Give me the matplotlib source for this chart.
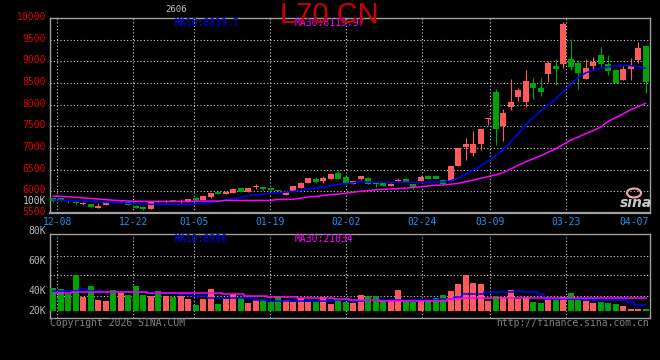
import numpy as np
import matplotlib.pyplot as plt
from matplotlib.patches import Ellipse
from matplotlib.transforms import ScaledTranslation

# daily candles, Dec -> Apr (price in yuan/ton)
opens = [5840, 5835, 5810, 5765, 5715, 5700, 5620, 5690, 5755, 5745,
         5760, 5670, 5640, 5600, 5775, 5745, 5790, 5760, 5760, 5850,
         5800, 5870, 5995, 5950, 5965, 6070, 5990, 6090, 6105, 6075,
         6035, 5920, 6012, 6085, 6195, 6290, 6235, 6290, 6430, 6320,
         6175, 6275, 6315, 6200, 6185, 6125, 6230, 6290, 6170, 6230,
         6350, 6365, 6260, 6250, 6585, 7025, 6885, 7095, 7675, 8300,
         7510, 7955, 8180, 8055, 8500, 8385, 8710, 8890, 8940, 9055,
         8955, 8600, 8895, 9145, 8940, 8800, 8570, 8825, 9040, 9355]
highs = [5855, 5845, 5820, 5775, 5745, 5705, 5720, 5750, 5765, 5790,
         5770, 5680, 5660, 5775, 5800, 5790, 5810, 5830, 5830, 5860,
         5900, 5965, 6005, 6000, 6060, 6080, 6085, 6160, 6110, 6085,
         6040, 5995, 6125, 6205, 6310, 6320, 6360, 6405, 6470, 6360,
         6250, 6365, 6325, 6205, 6195, 6185, 6300, 6300, 6180, 6360,
         6380, 6375, 6290, 6590, 7000, 7240, 7390, 7450, 7700, 8360,
         7900, 8590, 8390, 8800, 8615, 8615, 9010, 9045, 9915, 9510,
         9030, 9060, 9100, 9330, 9145, 8810, 8915, 9075, 9455, 9360]
lows = [5760, 5780, 5740, 5705, 5690, 5610, 5605, 5685, 5740, 5730,
        5685, 5615, 5570, 5595, 5730, 5720, 5760, 5720, 5755, 5780,
        5795, 5855, 5935, 5935, 5960, 5985, 5985, 6060, 6040, 6035,
        5975, 5915, 6005, 6080, 6190, 6190, 6200, 6285, 6280, 6165,
        6165, 6270, 6165, 6095, 6115, 6115, 6210, 6215, 6060, 6225,
        6290, 6290, 6165, 6245, 6580, 6725, 6815, 6960, 7530, 7070,
        7160, 7880, 8085, 7955, 8130, 8200, 8525, 8455, 8840, 8800,
        8360, 8600, 8825, 8840, 8685, 8505, 8565, 8570, 8970, 8275]
closes = [5785, 5795, 5770, 5720, 5725, 5630, 5660, 5745, 5745, 5760,
          5690, 5620, 5585, 5770, 5750, 5760, 5765, 5770, 5820, 5790,
          5890, 5955, 5945, 5985, 6050, 5990, 6080, 6125, 6045, 6040,
          6015, 5990, 6120, 6200, 6310, 6220, 6315, 6400, 6288, 6172,
          6235, 6360, 6170, 6175, 6125, 6170, 6260, 6220, 6095, 6335,
          6295, 6295, 6175, 6580, 6990, 7090, 7090, 7445, 7695, 7440,
          7800, 8065, 8340, 8545, 8385, 8295, 8960, 8825, 9860, 8860,
          8740, 8845, 8990, 8940, 8785, 8510, 8815, 8900, 9315, 8530]

ma10 = [5805, 5795, 5785, 5778, 5772, 5768, 5758, 5748, 5740, 5732,
        5722, 5712, 5704, 5700, 5700, 5700, 5700, 5700, 5700, 5710,
        5725, 5745, 5770, 5798, 5830, 5865, 5900, 5918, 5935, 5950,
        5965, 5980, 6000, 6025, 6050, 6075, 6095, 6130, 6160, 6180,
        6198, 6220, 6215, 6212, 6210, 6208, 6208, 6210, 6210, 6212,
        6215, 6215, 6218, 6240, 6310, 6390, 6490, 6590, 6690, 6830,
        6950, 7130, 7330, 7530, 7700, 7850, 7990, 8130, 8300, 8470,
        8620, 8730, 8790, 8845, 8875, 8895, 8900, 8900, 8880, 8840]
ma30 = [5890, 5885, 5876, 5865, 5850, 5835, 5822, 5810, 5795, 5785,
        5778, 5770, 5768, 5768, 5768, 5768, 5768, 5768, 5768, 5775,
        5775, 5775, 5775, 5790, 5790, 5790, 5790, 5790, 5790, 5790,
        5815, 5815, 5815, 5840, 5870, 5880, 5905, 5925, 5935, 5955,
        5980, 6000, 6020, 6035, 6045, 6055, 6065, 6075, 6090, 6105,
        6125, 6140, 6146, 6165, 6185, 6220, 6260, 6300, 6340, 6380,
        6430, 6515, 6600, 6680, 6750, 6820, 6900, 6980, 7080, 7180,
        7250, 7330, 7400, 7480, 7610, 7700, 7785, 7880, 7955, 8030]

# volume in K (chart's own odd scale)
volume = [43.3, 41.7, 36.7, 56, 34.3, 45, 31.3, 30.3, 41, 38.7,
          35.7, 45, 36.3, 35.3, 40, 35.3, 34.3, 35.3, 32.3, 26,
          31.7, 42, 27.3, 32, 37, 34, 28.3, 30.7, 31.7, 29.3,
          34.7, 31, 29.3, 32.7, 29.3, 29.3, 34, 27, 31.7, 29.3,
          28.3, 36, 35, 35, 30.7, 30.7, 41, 30, 29.3, 30.7,
          30.7, 32.7, 36, 40, 47, 56, 48.3, 47, 30.3, 35.3,
          34.3, 41, 32.3, 33.7, 29.3, 28.3, 32.3, 33.3, 33.7, 38.3,
          31.7, 29.7, 28.3, 29.3, 28.3, 27, 25, 22.3, 22.3, 22.3]
vol_ma10 = [40.3, 40.3, 40.3, 40.3, 41.7, 40.3, 40.3, 39, 39, 39,
            39, 39, 39, 37.7, 37.7, 37.7, 37.7, 36.7, 36.7, 35.3,
            35.3, 32.7, 32.7, 32.7, 32.7, 32.7, 32.7, 31, 31, 30.3,
            30.3, 30.3, 30.3, 30.3, 30.3, 30.3, 30.3, 30.3, 30.7, 30.7,
            29.7, 29.7, 31, 31, 31, 31, 31, 31, 31, 31,
            31, 31, 31.7, 31.7, 34.3, 37, 37, 37, 38.7, 38.7,
            38.7, 38.7, 39.7, 38.7, 38.7, 37, 31.7, 31.7, 31.7, 31.7,
            31.7, 30.7, 30.7, 30.7, 30.7, 30.7, 30.7, 28.7, 26, 26]
vol_ma30 = [38.3, 38.3, 38.3, 39, 39, 39, 39, 38.7, 38.7, 38.7,
            38.7, 38.7, 38.7, 37.7, 37.7, 37.7, 37.7, 37.7, 37.7, 37.7,
            37.7, 37.7, 37.7, 36.7, 36.7, 36.7, 35.3, 35.3, 35.3, 34.3,
            34.3, 34.3, 34.3, 32.7, 32.7, 32.7, 32.7, 32.7, 32.3, 32.3,
            31, 31, 31, 31, 30.3, 30.3, 30.3, 30.3, 30.3, 30.3,
            30.3, 30.3, 30.3, 31.7, 31.7, 32.7, 32.7, 32.7, 33.3, 33.3,
            33.3, 33.3, 33.3, 33.3, 33.3, 33.3, 33.3, 33.3, 33.3, 33.3,
            33.3, 33.3, 33.3, 33.3, 33.3, 33.3, 33.3, 33.3, 33.3, 33.3]

date_labels = ['12-08', '12-22', '01-05', '01-19', '02-02', '02-24', '03-09', '03-23', '04-07']
date_index = [0, 10, 18, 28, 38, 48, 57, 67, 77]
price_ticks = [5500, 6000, 6500, 7000, 7500, 8000, 8500, 9000, 9500, 10000]
vol_labels = ['80K', '60K', '40K', '20K']

RED = '#FF5A5A'
GREEN = '#00A400'
GRID = '#C8C8C8'
EDGE = '#A0A0A0'
W, H = 660, 360

plt.rcParams['font.family'] = 'DejaVu Sans Mono'

fig = plt.figure(figsize=(6.6, 3.6), dpi=100, facecolor='black')


def rect(l, t, r, b):
    return [l / W, 1 - b / H, (r - l) / W, (b - t) / H]


def ftext(x, y, s, **kw):
    fig.text(x / W, 1 - y / H, s, **kw)


ax = fig.add_axes(rect(50, 18, 650, 213), facecolor='black')
axv = fig.add_axes(rect(50, 234, 650, 318), facecolor='black')

o = np.array(opens)
c = np.array(closes)
x = np.arange(len(o))
colors = np.where(c >= o, RED, GREEN)

# candles
ax.vlines(x, lows, highs, colors=colors, lw=0.8, zorder=2)
ax.bar(x, np.maximum(np.abs(c - o), 20), bottom=np.minimum(o, c), width=0.8,
       color=colors, linewidth=0, zorder=3)
ax.plot(x, ma10, color='#0000FF', lw=1.1, zorder=4)
ax.plot(x, ma30, color='#FF00FF', lw=1.1, zorder=4)

# volume bars start from the 20K baseline as in the original
vol = np.array(volume)
axv.bar(x, vol - 20, bottom=20, width=0.8, color=colors, linewidth=0, zorder=3)
axv.plot(x, vol_ma10, color='#0000FF', lw=1.1, drawstyle='steps-mid', zorder=4)
axv.plot(x, vol_ma30, color='#FF00FF', lw=1.1, drawstyle='steps-mid', zorder=4)

for a in (ax, axv):
    a.set_xlim(-0.4, 79.6)
    for s in a.spines.values():
        s.set_color(EDGE)
        s.set_linewidth(1)
ax.set_ylim(5500, 10000)
axv.set_ylim(13, 97)
ax.spines['bottom'].set_linestyle((0, (1, 1)))
ax.spines['bottom'].set_linewidth(1.6)

dots = dict(color=GRID, lw=0.8, ls=(0, (1, 2)), zorder=1)
for v in price_ticks[1:-1]:
    ax.axhline(v, **dots)
for v in (35.3, 56, 75.3):
    axv.axhline(v, **dots)
grid_x = 0.57 + np.array(date_index) * 7.6 / 7.5
for g in grid_x[:-1]:
    ax.axvline(g, **dots)
    axv.axvline(g, **dots)

tick_x = grid_x.copy()
tick_x[-1] = min(tick_x[-1], 77.5)
ax.set_xticks(tick_x, date_labels)
ax.set_yticks(price_ticks, [str(p) for p in price_ticks])
ax.tick_params(axis='x', length=0, pad=3, labelsize=7, labelcolor='#2090F0')
ax.tick_params(axis='y', length=0, pad=3, labelsize=7, labelcolor='#E00000')
for lab in ax.get_yticklabels():
    lab.set_transform(lab.get_transform() + ScaledTranslation(0, 2 / 100, fig.dpi_scale_trans))
axv.set_xticks([])
axv.set_yticks([])

# texts
ftext(46, 201, '100K', color='#C8C8C8', fontsize=7, ha='right', va='center')
for lab, yy in zip(vol_labels, [231, 261, 291, 311]):
    ftext(46, yy, lab, color='#B4B4B4', fontsize=7, ha='right', va='center')
ftext(176, 9.5, '2606', color='#C0C0C0', fontsize=6.5, ha='center', va='center')
ftext(175, 23.5, 'MA10:8839.7', color='#0000FF', fontsize=7, va='center')
ftext(295, 23.5, 'MA30:8119.97', color='#FF00FF', fontsize=7, va='center')
ftext(329, 15, 'L70 CN', color='#CC0000', fontsize=21, family='Liberation Sans',
      ha='center', va='center')
ftext(175, 238.5, 'MA10:8996', color='#0000FF', fontsize=7, va='center')
ftext(295, 238.5, 'MA30:21034', color='#FF00FF', fontsize=7, va='center')
ftext(50, 323.5, 'Copyright 2026 SINA.COM', color='#808080', fontsize=7, va='center')
ftext(649, 323.5, 'http://finance.sina.com.cn', color='#808080', fontsize=7,
      ha='right', va='center')

# sina logo
fig.add_artist(Ellipse((634 / W, 1 - 193 / H), 14 / W, 9 / H, transform=fig.transFigure,
                       fc='none', ec='#F0A0A0', lw=1.6))
ftext(636, 203, 'sina', color='#C8C8C8', fontsize=10, fontweight='bold',
      fontstyle='italic', family='DejaVu Sans', ha='center', va='center')

fig.savefig('out.png', dpi=100, facecolor='black')
